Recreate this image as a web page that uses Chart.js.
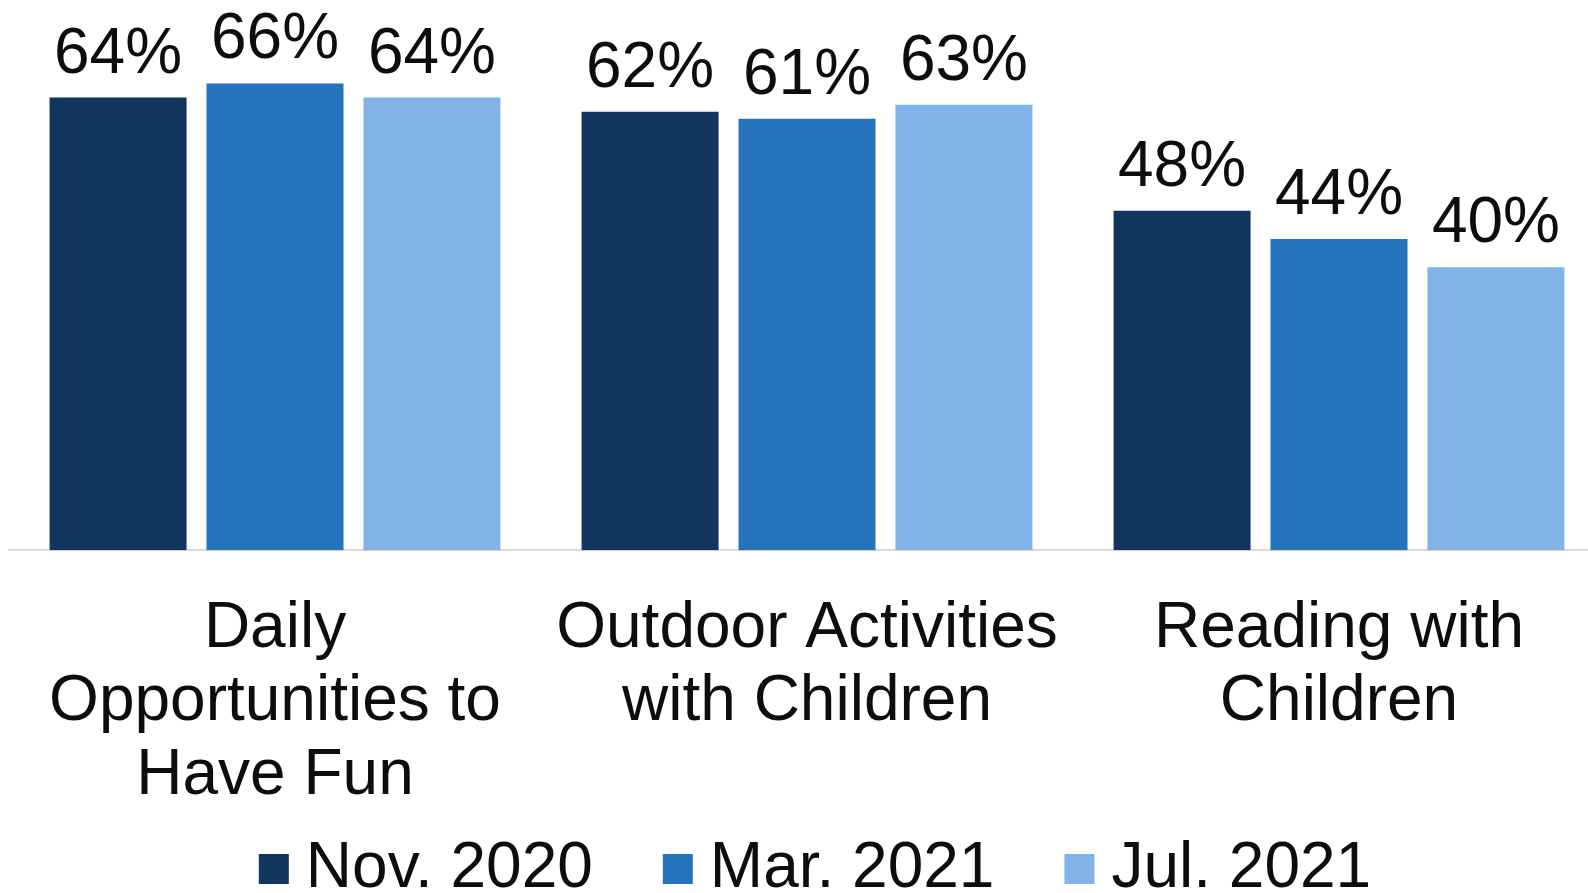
<!DOCTYPE html>
<html>
<head>
<meta charset="utf-8">
<script src="https://cdn.jsdelivr.net/npm/chart.js@4/dist/chart.umd.min.js"></script>
<style>
  html, body { margin: 0; padding: 0; background: #fff; overflow: hidden; }
  #wrap { width: 1605px; height: 893px; position: relative; }
</style>
</head>
<body>
<div id="wrap"><canvas id="activityChart"></canvas></div>
<script>
// Categories and survey waves
const categories = [
    ['Daily', 'Opportunities to', 'Have Fun'],
    ['Outdoor Activities', 'with Children'],
    ['Reading with', 'Children']
];
const waves = ['Nov. 2020', 'Mar. 2021', 'Jul. 2021'];

// Percent of respondents per wave
const nov2020 = [64, 62, 48];
const mar2021 = [66, 61, 44];
const jul2021 = [64, 63, 40];

const colors = ['#12355F', '#2473BB', '#81B3E9'];
const textColor = '#0D0D0D';
const fontFamily = '"Liberation Sans", Arial, Helvetica, sans-serif';

// Write the percentage above each bar
const valueLabels = {
    id: 'valueLabels',
    afterDatasetsDraw(chart) {
        const ctx = chart.ctx;
        ctx.save();
        ctx.font = '64px ' + fontFamily;
        ctx.fillStyle = textColor;
        ctx.textAlign = 'center';
        ctx.textBaseline = 'alphabetic';
        chart.data.datasets.forEach((ds, i) => {
            chart.getDatasetMeta(i).data.forEach((bar, j) => {
                ctx.fillText(ds.data[j] + '%', bar.x, bar.y - 25);
            });
        });
        ctx.restore();
    }
};

// Legend row along the bottom: square swatch, short gap, label
const bottomLegend = {
    id: 'bottomLegend',
    afterDraw(chart) {
        const ctx = chart.ctx;
        const box = 30, boxGap = 17, itemGap = 70;
        ctx.save();
        ctx.font = '64px ' + fontFamily;
        ctx.textBaseline = 'middle';
        ctx.textAlign = 'left';
        const items = chart.data.datasets.map(ds => ({
            text: ds.label,
            color: ds.backgroundColor,
            w: ctx.measureText(ds.label).width
        }));
        const total = items.reduce((s, it) => s + box + boxGap + it.w, 0) + itemGap * (items.length - 1);
        const cy = chart.height - 28;
        let x = (chart.chartArea.left + chart.chartArea.right) / 2 - total / 2 + 8;
        items.forEach(it => {
            ctx.fillStyle = it.color;
            ctx.fillRect(x, cy - box / 2 + 4, box, box);
            x += box + boxGap;
            ctx.fillStyle = textColor;
            ctx.fillText(it.text, x, cy + 4);
            x += it.w + itemGap;
        });
        ctx.restore();
    }
};

const ctx = document.getElementById('activityChart').getContext('2d');
const activityChart = new Chart(ctx, {
    type: 'bar',
    data: {
        labels: categories,
        datasets: [nov2020, mar2021, jul2021].map((values, i) => ({
            label: waves[i],
            data: values,
            backgroundColor: colors[i],
            borderWidth: 0,
            categoryPercentage: 0.885,
            barPercentage: 0.873
        }))
    },
    options: {
        responsive: true,
        maintainAspectRatio: false,
        animation: false,
        layout: { padding: { top: 0, left: 9, right: 0, bottom: 38 } },
        plugins: {
            tooltip: { enabled: false },
            legend: { display: false }
        },
        scales: {
            x: {
                grid: { display: false, drawTicks: false },
                border: { display: true, color: '#D9D9D9', width: 2 },
                ticks: {
                    color: textColor,
                    padding: 42,
                    maxRotation: 0,
                    autoSkip: false,
                    font: { size: 64, family: fontFamily, lineHeight: 1.15 }
                }
            },
            y: {
                display: false,
                min: 0,
                max: 77.8
            }
        }
    },
    plugins: [valueLabels, bottomLegend]
});
</script>
</body>
</html>
